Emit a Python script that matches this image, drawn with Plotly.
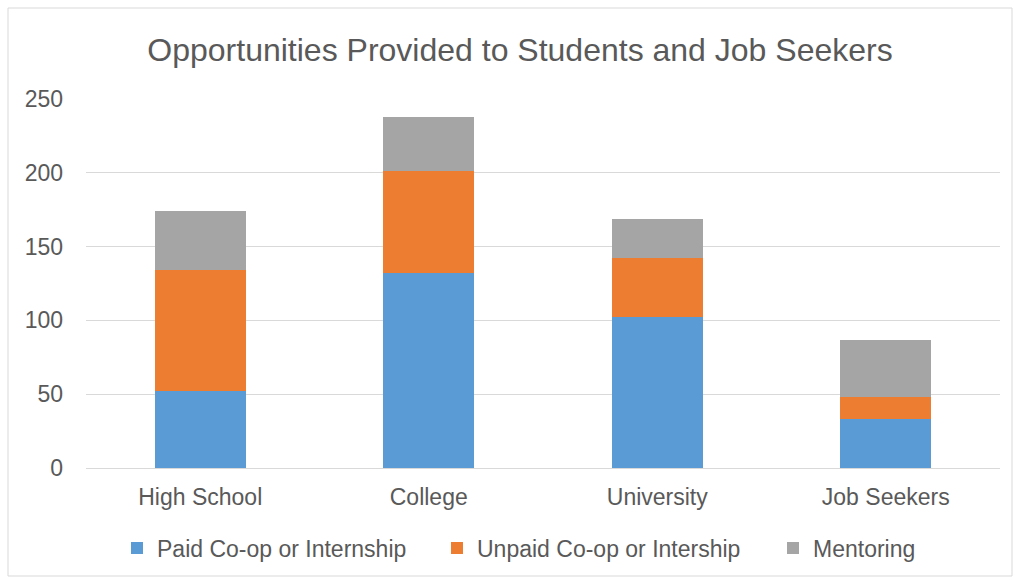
import plotly.graph_objects as go

categories = ["High School", "College", "University", "Job Seekers"]
paid = [52, 132, 102, 33]
unpaid = [82, 69, 40, 15]
mentoring = [40, 37, 27, 39]
series_names = ["Paid Co-op or Internship", "Unpaid Co-op or Intership", "Mentoring"]
colors = ["#5B9BD5", "#ED7D31", "#A5A5A5"]
y_ticks = [0, 50, 100, 150, 200, 250]

W, H = 1018, 581
L, R, T, B = 86, 18, 99, 113
pw, ph = W - L - R, H - T - B

def px_x(p):
    return (p - L) / pw

def px_y(p):
    return (H - B - p) / ph

font_family = "Liberation Sans, Arial, sans-serif"
text_color = "#595959"

legend_ids = ["legend", "legend2", "legend3"]
legend_left_px = [117, 437, 773]

fig = go.Figure()
for name, vals, col, lid in zip(series_names, [paid, unpaid, mentoring], colors, legend_ids):
    fig.add_trace(go.Bar(x=categories, y=vals, name=name, legend=lid,
                         marker=dict(color=col, line=dict(width=0))))

legend_layouts = {}
for lid, lx in zip(legend_ids, legend_left_px):
    legend_layouts[lid] = dict(orientation="h", x=px_x(lx), xanchor="left",
                               y=px_y(548), yanchor="middle",
                               font=dict(size=23, color=text_color, family=font_family),
                               bgcolor="rgba(0,0,0,0)")

fig.update_layout(
    width=W, height=H,
    barmode="stack", bargap=0.6,
    margin=dict(l=L, r=R, t=T, b=B, autoexpand=False),
    paper_bgcolor="white", plot_bgcolor="white",
    font=dict(family=font_family, color=text_color, size=23),
    title=dict(text="Opportunities Provided to Students and Job Seekers",
               x=px_x(520), xref="paper", xanchor="center",
               y=1 - 50 / H, yref="container", yanchor="middle",
               font=dict(size=32, color=text_color, family=font_family)),
    xaxis=dict(showgrid=False, showline=True, linecolor="#D9D9D9", linewidth=1,
               ticks="", ticklabelstandoff=8, tickfont=dict(size=23)),
    yaxis=dict(range=[0, 250], tickvals=y_ticks, showgrid=True, gridcolor="#D9D9D9",
               gridwidth=1, zeroline=False, showline=False, ticks="",
               ticklabelstandoff=22, tickfont=dict(size=23)),
    showlegend=True,
    shapes=[dict(type="rect", xref="paper", yref="paper",
                 x0=px_x(8), x1=px_x(1012), y0=px_y(576), y1=px_y(8),
                 line=dict(color="#D9D9D9", width=1), fillcolor="rgba(0,0,0,0)",
                 layer="below")],
    **legend_layouts,
)

fig.write_html("out.html", config={"displayModeBar": False},
               post_script="document.body.style.margin='0';document.body.style.overflow='hidden';")
